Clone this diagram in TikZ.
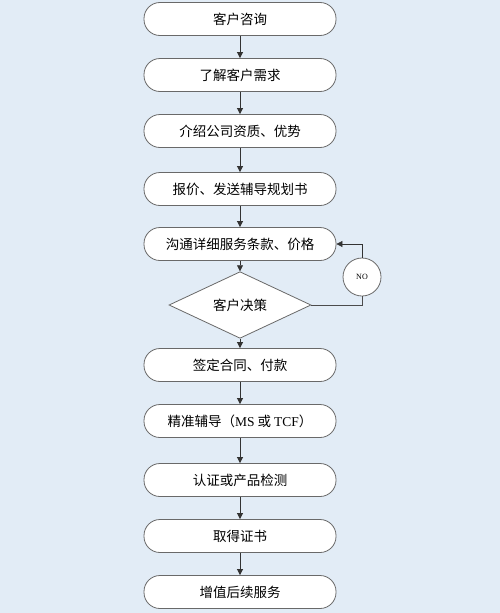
\documentclass[tikz,border=0pt]{standalone}
\usepackage{fontspec}
\setmainfont{Noto Sans CJK SC}
\newfontfamily\latinserif{Liberation Serif}
\usetikzlibrary{shapes.geometric,arrows.meta}
\definecolor{bg}{RGB}{226,236,246}
\definecolor{edge}{RGB}{105,105,105}
\tikzset{
  x=1pt,y=-1pt,
  flowbox/.style={draw=edge,line width=0.8pt,fill=white,rounded corners=16pt,
    minimum width=192pt,minimum height=33pt,inner sep=0pt,
    font=\fontsize{13.5}{15}\selectfont},
  decide/.style={draw=edge,line width=0.8pt,fill=white,diamond,
    minimum width=142pt,minimum height=40pt,inner sep=0pt,
    font=\fontsize{13.5}{15}\selectfont},
  nocircle/.style={draw=edge,line width=0.8pt,fill=white,circle,minimum size=38pt,
    inner sep=0pt,font=\latinserif\fontsize{8}{9}\selectfont},
  flow/.style={draw=black!80,line width=0.7pt,-{Triangle[length=6pt,width=6pt]}},
  plain/.style={draw=black!70,line width=0.7pt}
}
\begin{document}
\begin{tikzpicture}
\fill[bg] (0,0) rectangle (500,613);
\useasboundingbox (0,0) rectangle (500,613);
\node[flowbox] (b1) at (240,19) {客户咨询};
\node[flowbox] (b2) at (240,75) {了解客户需求};
\node[flowbox] (b3) at (240,131) {介绍公司资质、优势};
\node[flowbox] (b4) at (240,189) {报价、发送辅导规划书};
\node[flowbox] (b5) at (240,244) {沟通详细服务条款、价格};
\node[decide] (d) at (240,305) {客户决策};
\node[flowbox] (b6) at (240,365) {签定合同、付款};
\node[flowbox] (b7) at (240,421) {精准辅导（{\latinserif MS} 或 {\latinserif TCF}）};
\node[flowbox] (b8) at (240,480) {认证或产品检测};
\node[flowbox] (b9) at (240,536) {取得证书};
\node[flowbox] (b10) at (240,592) {增值后续服务};
\node[nocircle] (no) at (362,277) {NO};
\draw[flow] (b1) -- (b2);
\draw[flow] (b2) -- (b3);
\draw[flow] (b3) -- (b4);
\draw[flow] (b4) -- (b5);
\draw[flow] (b5) -- (d);
\draw[flow] (d) -- (b6);
\draw[flow] (b6) -- (b7);
\draw[flow] (b7) -- (b8);
\draw[flow] (b8) -- (b9);
\draw[flow] (b9) -- (b10);
\draw[plain] (d.east) -| (no.south);
\draw[flow] (no.north) |- (b5.east);
\end{tikzpicture}
\end{document}
